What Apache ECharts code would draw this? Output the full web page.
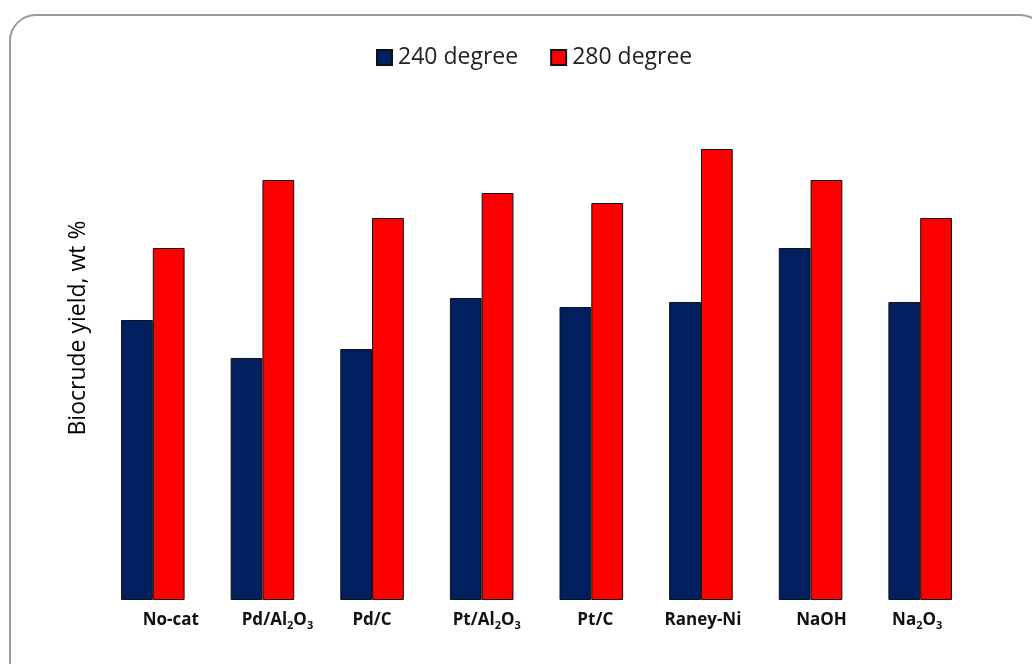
<!DOCTYPE html>
<html>
<head>
<meta charset="utf-8">
<script src="https://cdn.jsdelivr.net/npm/echarts@6/dist/echarts.min.js"></script>
<style>html,body{margin:0;padding:0;background:#fff;}#c{width:1032px;height:664px;}</style>
</head>
<body>
<div id="c"></div>
<script>
const categories = ['No-cat', 'Pd/Al2O3', 'Pd/C', 'Pt/Al2O3', 'Pt/C', 'Raney-Ni', 'NaOH', 'Na2O3'];
const seriesNames = ['240 degree', '280 degree'];
const yield240 = [28.0, 24.2, 25.1, 30.2, 29.3, 29.8, 35.2, 29.8];
const yield280 = [35.2, 42.0, 38.2, 40.7, 39.7, 45.1, 42.0, 38.2];
const yAxisTitle = 'Biocrude yield, wt %';

// layout only: horizontal nudge (px) of each category label, as placed in the original
const labelShift = [18, 15, 0, 5, 4, 2, 11, -3];

const FONT = '"Open Sans", "Liberation Sans", sans-serif';

const rich = {
  b: {fontSize: 17, fontWeight: 'bold', fontFamily: FONT, color: '#111', lineHeight: 22, verticalAlign: 'middle'},
  s: {fontSize: 11, fontWeight: 'bold', fontFamily: FONT, color: '#111', lineHeight: 12, verticalAlign: 'bottom'}
};
labelShift.forEach(function (d, i) {
  rich['l' + i] = {width: Math.max(0, 2 * d), fontSize: 17, lineHeight: 22};
  rich['r' + i] = {width: Math.max(0, -2 * d), fontSize: 17, lineHeight: 22};
});

function fmtLabel(v, idx) {
  let s = v.replace(/([A-Za-z])(\d)/g, '$1\u0001$2\u0002');
  let out = '';
  let buf = '';
  for (const ch of s) {
    if (ch === '\u0001') { if (buf) out += '{b|' + buf + '}'; buf = ''; }
    else if (ch === '\u0002') { out += '{s|' + buf + '}'; buf = ''; }
    else buf += ch;
  }
  if (buf) out += '{b|' + buf + '}';
  return '{l' + idx + '|}' + out + '{r' + idx + '|}';
}

const chart = echarts.init(document.getElementById('c'), null, {renderer: 'canvas'});
chart.setOption({
  animation: false,
  backgroundColor: '#fff',
  graphic: [
    {type: 'rect', shape: {x: 10, y: 15, width: 1036, height: 676, r: 26},
     style: {fill: 'none', stroke: '#9a9a9a', lineWidth: 2}, z: -1},
    {type: 'text', x: 78, y: 328, rotation: Math.PI / 2,
     style: {text: yAxisTitle, font: '23px ' + FONT, fill: '#000', align: 'center', verticalAlign: 'middle'}}
  ],
  legend: {
    top: 41, left: 371,
    icon: 'rect',
    itemWidth: 15, itemHeight: 15, itemGap: 32,
    textStyle: {fontSize: 23, fontFamily: FONT, color: '#222', padding: [0, 0, 0, 1]},
    data: seriesNames
  },
  grid: {left: 98, right: 57, top: 100, bottom: 64},
  xAxis: {
    type: 'category', data: categories,
    axisLine: {show: false}, axisTick: {show: false},
    axisLabel: {interval: 0, margin: 9, formatter: fmtLabel, rich: rich}
  },
  yAxis: {
    type: 'value', min: 0, max: 50,
    axisLine: {show: false}, axisTick: {show: false}, axisLabel: {show: false}, splitLine: {show: false}
  },
  series: [
    {name: seriesNames[0], type: 'bar', data: yield240, barGap: '0%', barCategoryGap: '42%',
     itemStyle: {color: '#002060', borderColor: '#111', borderWidth: 1}},
    {name: seriesNames[1], type: 'bar', data: yield280, barGap: '0%', barCategoryGap: '42%',
     itemStyle: {color: '#ff0000', borderColor: '#111', borderWidth: 1}}
  ]
});
</script>
</body>
</html>
